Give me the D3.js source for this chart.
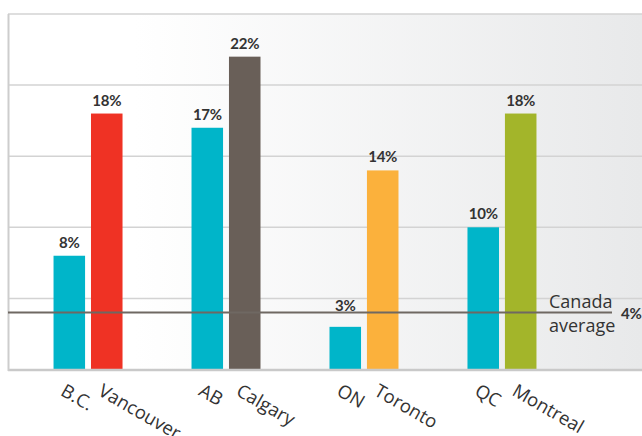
<!DOCTYPE html>
<html>
<head>
<meta charset="utf-8">
<script src="https://cdn.jsdelivr.net/npm/d3@7"></script>
<style>
  body { margin: 0; background: #fff; }
  svg { display: block; }
  text { fill: #333; }
  .val { font-family: Lato, sans-serif; font-weight: bold; font-size: 15px; letter-spacing: -0.3px; }
  .lbl { font-family: "Open Sans", sans-serif; font-size: 18px; }
  .cat { font-family: "Open Sans", sans-serif; font-size: 18.5px; }
</style>
</head>
<body>
<script>
var provinces = ["B.C.", "AB", "ON", "QC"]
var provinceValues = [8, 17, 3, 10]
var cities = ["Vancouver", "Calgary", "Toronto", "Montreal"]
var cityValues = [18, 22, 14, 18]
var cityColors = ["#ef3224", "#695f58", "#fbb13c", "#a3b52a"]
var provinceColor = "#00b5c9"
var canadaAverage = 4
var yTicks = [0, 5, 10, 15, 20, 25]

var width = 642, height = 436
var plotLeft = 8, plotTop = 14, plotBottom = 369.5

var svg = d3.select("body").append("svg")
    .attr("width", width)
    .attr("height", height)

var grad = svg.append("defs").append("linearGradient")
    .attr("id", "bg")
    .attr("x1", 0).attr("x2", 1).attr("y1", 0).attr("y2", 0)
grad.append("stop").attr("offset", "0%").attr("stop-color", "#ffffff")
grad.append("stop").attr("offset", "20%").attr("stop-color", "#ffffff")
grad.append("stop").attr("offset", "100%").attr("stop-color", "#e8e9ea")

var y = d3.scaleLinear().domain([0, 25]).range([plotBottom, plotTop])
var x0 = d3.scaleBand().domain(provinces).range([plotLeft, 582]).paddingInner(0.5).paddingOuter(0.33)
var x1 = d3.scaleBand().domain([0, 1]).range([0, x0.bandwidth()]).paddingInner(0.158)

svg.append("rect")
    .attr("x", plotLeft).attr("y", plotTop)
    .attr("width", width - plotLeft).attr("height", plotBottom - plotTop)
    .attr("fill", "url(#bg)")

// gridlines
svg.selectAll(".grid")
    .data(yTicks.slice(1))
    .enter().append("line")
      .attr("x1", plotLeft).attr("x2", width)
      .attr("y1", function(d) { return y(d) }).attr("y2", function(d) { return y(d) })
      .attr("stroke", "#d3d3d3").attr("stroke-width", 1.5)

var rows = provinces.map(function(p, i) {
  return [
    {group: p, k: 0, name: p, value: provinceValues[i], color: provinceColor},
    {group: p, k: 1, name: cities[i], value: cityValues[i], color: cityColors[i]}
  ]
})
var bars = d3.merge(rows)

svg.selectAll(".bar")
    .data(bars)
    .enter().append("rect")
      .attr("x", function(d) { return x0(d.group) + x1(d.k) })
      .attr("y", function(d) { return y(d.value) })
      .attr("width", x1.bandwidth())
      .attr("height", function(d) { return y(0) - y(d.value) })
      .attr("fill", function(d) { return d.color })

// axis frame
svg.append("line")
    .attr("x1", plotLeft).attr("x2", width).attr("y1", plotBottom + 0.5).attr("y2", plotBottom + 0.5)
    .attr("stroke", "#c9c9c9").attr("stroke-width", 2.5)
svg.append("line")
    .attr("x1", plotLeft + 0.5).attr("x2", plotLeft + 0.5).attr("y1", plotTop).attr("y2", plotBottom + 1.5)
    .attr("stroke", "#cdcdcd").attr("stroke-width", 2)

// canada average
var ya = y(canadaAverage)
svg.append("line")
    .attr("x1", plotLeft).attr("x2", 612).attr("y1", ya).attr("y2", ya)
    .attr("stroke", "#6f6862").attr("stroke-width", 2)
svg.append("text").attr("class", "lbl")
    .attr("x", 549).attr("y", ya - 5).text("Canada")
svg.append("text").attr("class", "lbl")
    .attr("x", 549).attr("y", ya + 19).text("average")
svg.append("text").attr("class", "val")
    .attr("x", 621).attr("y", ya + 6).text(canadaAverage + "%")

// value labels
svg.selectAll(".val-lbl")
    .data(bars)
    .enter().append("text")
      .attr("class", "val")
      .attr("text-anchor", "middle")
      .attr("x", function(d) { return x0(d.group) + x1(d.k) + x1.bandwidth() / 2 })
      .attr("y", function(d) {
        var ty = y(d.value) - 8
        // keep label clear of the average line
        if (ty > ya - 4 && ty - 11 < ya + 2) ty = ya - 2
        return ty
      })
      .text(function(d) { return d.value + "%" })

// category labels
svg.selectAll(".cat")
    .data(bars)
    .enter().append("text")
      .attr("class", "cat")
      .attr("transform", function(d) {
        return "translate(" + (x0(d.group) + x1(d.k) + 6) + "," + (plotBottom + 25) + ") rotate(30)"
      })
      .text(function(d) { return d.name })
</script>
</body>
</html>
